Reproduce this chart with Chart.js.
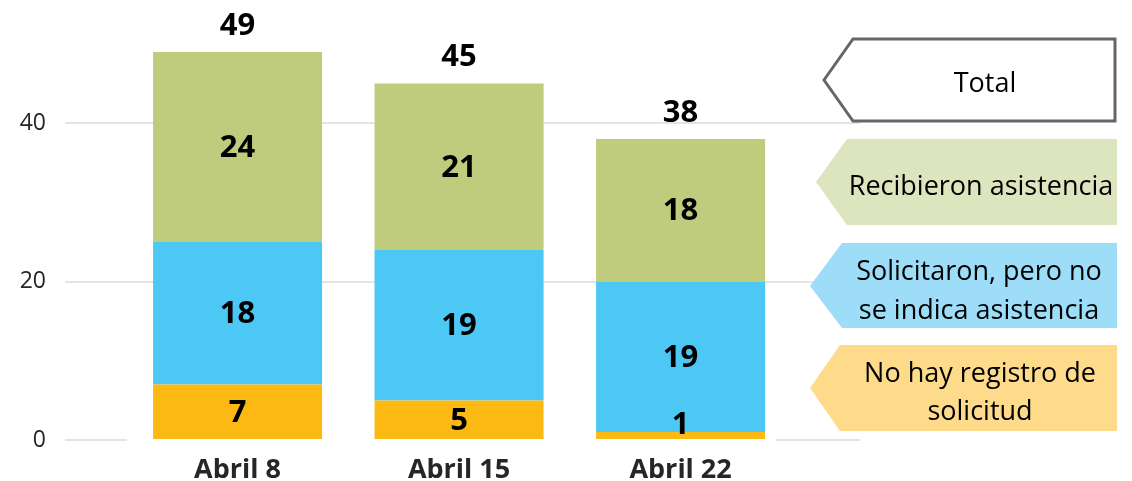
<!DOCTYPE html>
<html><head><meta charset="utf-8">
<script src="https://cdn.jsdelivr.net/npm/chart.js@4/dist/chart.umd.min.js"></script>
<style>html,body{margin:0;padding:0;background:#fff;overflow:hidden}#wrap{width:1132px;height:481px;position:relative}</style>
</head><body><div id="wrap"><canvas id="c" width="1132" height="481"></canvas></div>
<script>
// ---- data ----
const categories = ['Abril 8', 'Abril 15', 'Abril 22'];
const noRegistro = [7, 5, 1];
const solicitaron = [18, 19, 19];
const recibieron = [24, 21, 18];
const yTicks = [0, 20, 40];
const totalLabel = 'Total';
const legendRecibieron = ['Recibieron asistencia'];
const legendSolicitaron = ['Solicitaron, pero no', 'se indica asistencia'];
const legendNoRegistro = ['No hay registro de', 'solicitud'];

// ---- styles ----
const FONT = '"Open Sans", "Noto Sans", sans-serif';
const cOrange = '#FDB913', cBlue = '#4DC7F4', cGreen = '#BFCC7E';

const toXY = arr => arr.map((v, i) => ({x: i, y: v}));

const labelPlugin = {
  id: 'labels',
  beforeDatasetsDraw(chart) {
    const {ctx, scales: {x, y}} = chart;
    const y0 = y.getPixelForValue(0);
    ctx.save();
    ctx.fillStyle = '#fff';
    ctx.fillRect(x.getPixelForValue(-0.5), y0 - 2, x.getPixelForValue(2.43) - x.getPixelForValue(-0.5), 4);
    ctx.restore();
  },
  afterDatasetsDraw(chart) {
    const {ctx} = chart;
    ctx.save();
    ctx.font = 'bold 31px ' + FONT;
    ctx.fillStyle = '#000';
    ctx.textAlign = 'center';
    ctx.textBaseline = 'middle';
    chart.data.datasets.forEach((ds, di) => {
      const meta = chart.getDatasetMeta(di);
      meta.data.forEach((bar, i) => {
        const v = ds.data[i].y;
        let cy = (bar.y + bar.base) / 2;
        if (Math.abs(bar.base - bar.y) < 24) cy = bar.base - 15;
        ctx.fillText(String(v), bar.x, cy + 1);
      });
    });
    const top = chart.getDatasetMeta(chart.data.datasets.length - 1);
    top.data.forEach((bar, i) => {
      const tot = noRegistro[i] + solicitaron[i] + recibieron[i];
      ctx.fillText(String(tot), bar.x, bar.y - 26);
    });
    ctx.restore();
  },
  afterDraw(chart) {
    const {ctx} = chart;
    ctx.save();
    const shape = (pts, fill, stroke) => {
      ctx.beginPath();
      pts.forEach((p, k) => k ? ctx.lineTo(p[0], p[1]) : ctx.moveTo(p[0], p[1]));
      ctx.closePath();
      ctx.fillStyle = fill; ctx.fill();
      if (stroke) { ctx.lineWidth = 3; ctx.strokeStyle = stroke; ctx.lineJoin = 'miter'; ctx.stroke(); }
    };
    const text = (lines, cx, ys) => {
      ctx.font = '27px ' + FONT;
      ctx.fillStyle = '#000';
      ctx.textAlign = 'center';
      ctx.textBaseline = 'middle';
      lines.forEach((l, k) => ctx.fillText(l, cx, ys[k]));
    };
    shape([[824, 80], [853, 39], [1115, 39], [1115, 121], [853, 121]], '#fff', '#666');
    text([totalLabel], 985, [84]);
    shape([[816, 182], [847, 139], [1117, 139], [1117, 225], [847, 225]], '#DDE5BF');
    text(legendRecibieron, 981, [187]);
    shape([[810, 286], [842, 243], [1117, 243], [1117, 328], [842, 328]], '#9DDDF7');
    text(legendSolicitaron, 979, [272, 311]);
    shape([[810, 388], [840, 345], [1117, 345], [1117, 431], [840, 431]], '#FDDB8A');
    text(legendNoRegistro, 980, [374, 412]);
    ctx.restore();
  }
};

new Chart(document.getElementById('c'), {
  type: 'bar',
  data: {
    datasets: [
      {label: legendNoRegistro.join(' '), data: toXY(noRegistro), backgroundColor: cOrange},
      {label: legendSolicitaron.join(' '), data: toXY(solicitaron), backgroundColor: cBlue},
      {label: legendRecibieron.join(' '), data: toXY(recibieron), backgroundColor: cGreen}
    ]
  },
  options: {
    responsive: false,
    animation: false,
    devicePixelRatio: 1,
    barPercentage: 0.763,
    categoryPercentage: 1,
    layout: {padding: {top: 44, right: 272, left: 0, bottom: 0}},
    plugins: {legend: {display: false}, tooltip: {enabled: false}},
    scales: {
      x: {
        type: 'linear', stacked: true, min: -0.779, max: 2.81, offset: false,
        grid: {display: false}, border: {display: false},
        afterBuildTicks: s => { s.ticks = categories.map((_, i) => ({value: i})); },
        afterFit: s => { s.height = 41; },
        ticks: {autoSkip: false, maxRotation: 0, padding: 6, color: '#262626',
          font: {family: FONT, size: 27, weight: 'bold'},
          callback: v => categories[v]}
      },
      y: {
        stacked: true, min: 0, max: 50,
        grid: {color: '#E4E4E4', lineWidth: 2, drawTicks: false}, border: {display: false},
        afterBuildTicks: s => { s.ticks = yTicks.map(v => ({value: v})); },
        afterFit: s => { s.width = 65; },
        ticks: {padding: 19, color: '#262626', font: {family: FONT, size: 23}}
      }
    }
  },
  plugins: [labelPlugin]
});
</script></body></html>
